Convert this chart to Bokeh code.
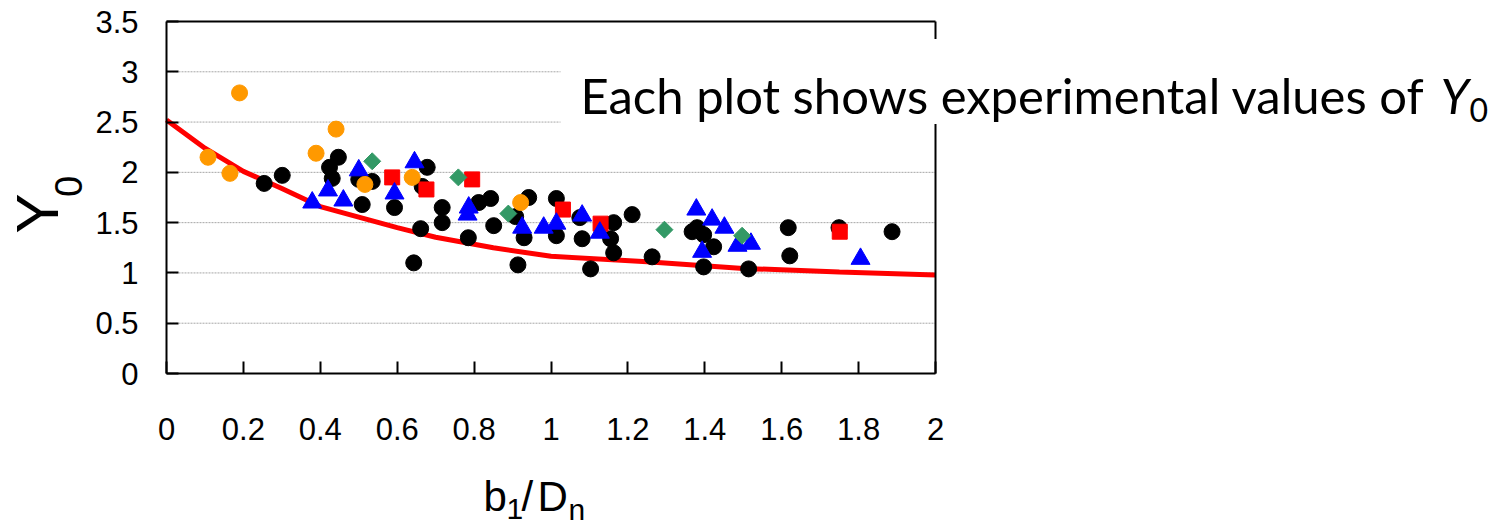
from math import pi
from bokeh.plotting import figure
from bokeh.models import Range1d, FixedTicker, LinearAxis, Label
from bokeh.embed import file_html
from bokeh.resources import INLINE

# ---------------- data ----------------
curve_x = [0.0, 0.1, 0.2, 0.3, 0.4, 0.5, 0.6, 0.7, 0.85, 1.0, 1.25, 1.5, 1.75, 2.0]
curve_y = [2.52, 2.24, 2.01, 1.84, 1.66, 1.555, 1.45, 1.355, 1.25, 1.165, 1.11, 1.045, 1.01, 0.98]

black_x = [0.254, 0.301, 0.424, 0.447, 0.431, 0.50, 0.535, 0.509, 0.593, 0.678, 0.665,
           0.717, 0.717, 0.661, 0.643, 0.812, 0.843, 0.851, 0.785, 0.908, 0.942, 0.930,
           0.914, 1.014, 1.014, 1.075, 1.081, 1.163, 1.155, 1.163, 1.103, 1.211, 1.263,
           1.367, 1.380, 1.397, 1.423, 1.397, 1.514, 1.617, 1.621, 1.749, 1.887]
black_y = [1.89, 1.97, 2.05, 2.15, 1.94, 1.93, 1.91, 1.68, 1.65, 2.05, 1.86,
           1.65, 1.50, 1.44, 1.10, 1.70, 1.74, 1.47, 1.35, 1.56, 1.75, 1.35,
           1.08, 1.74, 1.37, 1.55, 1.34, 1.50, 1.34, 1.20, 1.04, 1.58, 1.16,
           1.41, 1.45, 1.38, 1.26, 1.06, 1.04, 1.45, 1.17, 1.45, 1.41]

orange_x = [0.108, 0.165, 0.190, 0.389, 0.441, 0.516, 0.639, 0.921]
orange_y = [2.15, 1.99, 2.79, 2.19, 2.43, 1.88, 1.95, 1.70]

blue_x = [0.379, 0.420, 0.460, 0.500, 0.593, 0.645, 0.786, 0.783, 0.925, 0.981,
          1.014, 1.081, 1.127, 1.378, 1.419, 1.451, 1.393, 1.485, 1.520, 1.805]
blue_y = [1.70, 1.82, 1.72, 2.02, 1.79, 2.10, 1.65, 1.58, 1.45, 1.45,
          1.49, 1.57, 1.40, 1.63, 1.53, 1.45, 1.21, 1.27, 1.29, 1.14]

red_x = [0.587, 0.676, 0.795, 1.031, 1.129, 1.751]
red_y = [1.95, 1.83, 1.93, 1.63, 1.49, 1.41]

green_x = [0.535, 0.759, 0.889, 1.295, 1.497]
green_y = [2.11, 1.95, 1.59, 1.43, 1.37]

x_ticks = [0, 0.2, 0.4, 0.6, 0.8, 1.0, 1.2, 1.4, 1.6, 1.8, 2.0]
x_tick_labels = ["0", "0.2", "0.4", "0.6", "0.8", "1", "1.2", "1.4", "1.6", "1.8", "2"]
y_ticks = [0, 0.5, 1.0, 1.5, 2.0, 2.5, 3.0, 3.5]
y_tick_labels = ["0", "0.5", "1", "1.5", "2", "2.5", "3", "3.5"]
grid_levels = [0.5, 1.0, 1.5, 2.0, 2.5, 3.0]

annotation_text = "Each plot shows experimental values of "

# ---------------- layout ----------------
W, H = 1489, 526
FL, FR, FT, FB = 166, 935, 21, 373   # pixel edges of the data box
XMIN, XMAX, YMIN, YMAX = 0.0, 2.0, 0.0, 3.5
KX = (XMAX - XMIN) / (FR - FL)
KY = (YMAX - YMIN) / (FB - FT)

def dx(px):
    return XMIN + (px - FL) * KX

def dy(py):
    return YMIN + (FB - py) * KY

# the drawing frame spans the whole canvas so that texts outside the data box are not clipped
p = figure(width=W, height=H, x_range=Range1d(dx(0), dx(W)), y_range=Range1d(dy(H), dy(0)),
           output_backend="svg", toolbar_location=None,
           x_axis_location=None, y_axis_location=None,
           min_border=0, min_border_left=0, min_border_right=0,
           min_border_top=0, min_border_bottom=0)
p.outline_line_color = None
p.background_fill_color = "white"
p.border_fill_color = "white"
p.grid.visible = False

TICK_FONT = "Liberation Sans"
ANN_FONT = "Lato"

def make_axis(ticks, labels, loc, bounds, show):
    ax = LinearAxis(fixed_location=loc, bounds=bounds,
                    ticker=FixedTicker(ticks=ticks if show else []),
                    axis_line_color="black", axis_line_width=2,
                    major_tick_line_color="black", major_tick_line_width=2,
                    major_tick_in=12, major_tick_out=0,
                    minor_tick_line_color=None,
                    major_label_text_font=TICK_FONT, major_label_text_font_size="31px",
                    major_label_text_color="black")
    if show:
        ax.major_label_overrides = {t: l for t, l in zip(ticks, labels)}
    return ax

xax = make_axis(x_ticks, x_tick_labels, YMIN, (XMIN, XMAX), True)
xax.major_label_standoff = 44
yax = make_axis(y_ticks, y_tick_labels, XMIN, (YMIN, YMAX), True)
yax.major_label_standoff = 28
p.add_layout(xax, "below")
p.add_layout(yax, "left")
p.add_layout(make_axis([], [], XMAX, (YMIN, YMAX), False), "right")
p.add_layout(make_axis([], [], YMAX, (XMIN, XMAX), False), "above")

# horizontal dotted gridlines inside the data box
p.segment(x0=[XMIN] * len(grid_levels), x1=[XMAX] * len(grid_levels),
          y0=grid_levels, y1=grid_levels, line_color="#A6A6A6", line_dash="2 1", line_width=1)

# ---------------- marks ----------------
p.line(curve_x, curve_y, line_color="#FF0000", line_width=5)
p.scatter(black_x, black_y, marker="circle", size=16, fill_color="black", line_color="black")
p.scatter(red_x, red_y, marker="square", size=15, fill_color="#FF0000", line_color="#FF0000")
p.scatter(blue_x, blue_y, marker="triangle", size=19, fill_color="#0000FF", line_color="#0000FF")
p.scatter(green_x, green_y, marker="square", size=12, angle=pi / 4,
          fill_color="#339966", line_color="#339966")
p.scatter(orange_x, orange_y, marker="circle", size=16, fill_color="#FF9900", line_color="#FF9900")

def add_text(txt, px, py, size, font=TICK_FONT, align="left", angle=0.0, style="normal", **kw):
    # (px, py) is the middle of the text box
    p.add_layout(Label(x=dx(px), y=dy(py), text=txt,
                       text_font=font, text_font_size=f"{size}px", text_align=align,
                       text_baseline="middle", angle=angle, text_font_style=style,
                       text_color="black", **kw))

def mid_from_base(base, size, k=0.3465):
    return base - k * size

# ---------------- axis titles ----------------
add_text("Y", 37, 213, 60, align="center", angle=pi / 2)
add_text("0", 68, 186, 38, align="center", angle=pi / 2)

for txt, px, base, size in (("b", 483, 511, 42), ("1", 506, 519, 30),
                            ("/", 521, 511, 42), ("D", 537, 511, 42),
                            ("n", 568, 519, 30)):
    add_text(txt, px, mid_from_base(base, size), size)

# ---------------- annotation ----------------
ANN = 49
pad_top, pad_bottom = 27, 0
box_top = 38
text_h = 1.2 * ANN
add_text(annotation_text, 560, box_top + (pad_top + text_h + pad_bottom) / 2, ANN, font=ANN_FONT,
         background_fill_color="white",
         padding=dict(left=20, right=80, top=pad_top, bottom=pad_bottom))
add_text("Y", 1440, mid_from_base(113, ANN, 0.387), ANN, font=ANN_FONT, style="italic")
add_text("0", 1469, mid_from_base(122, 32, 0.387), 32, font=ANN_FONT)

open("out.html", "w").write(file_html(p, INLINE))
